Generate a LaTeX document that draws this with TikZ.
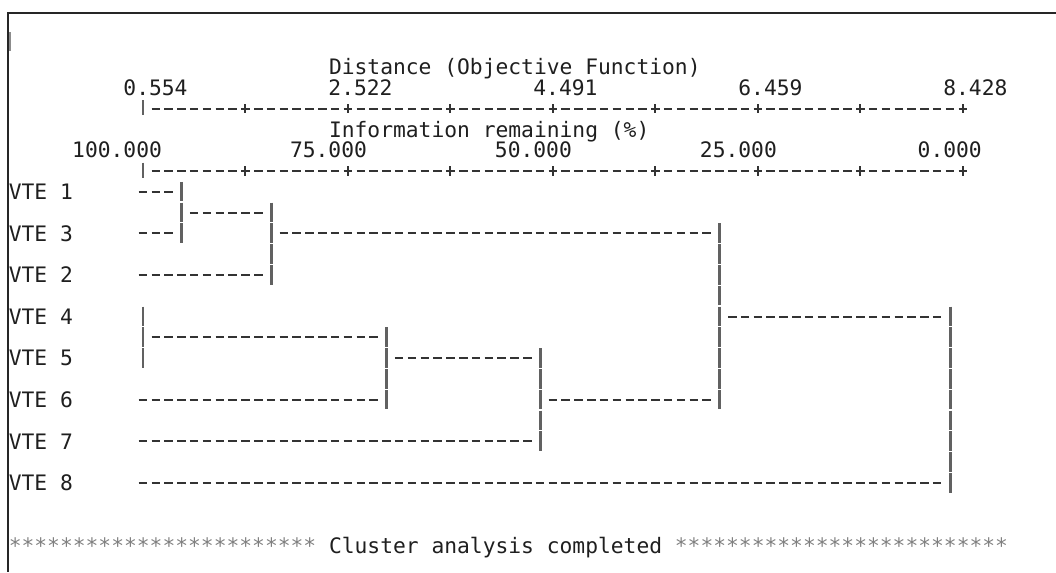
\documentclass[tikz,border=0pt]{standalone}
\usepackage{fontspec}
\newfontfamily\consfont{DejaVu Sans Mono}
\newcommand{\outfont}{\consfont\fontsize{15.14pt}{18pt}\selectfont}

\begin{document}
\begin{tikzpicture}[x=0.32025cm,y=-0.52cm,
  plaintxt/.style={anchor=base west,inner sep=0pt,font=\outfont,text=black!88},
  numtxt/.style={plaintxt,anchor=base east},
  startxt/.style={plaintxt,text=black!50},
  rowdash/.style={line width=1.4pt,draw=black!80,dash pattern=on 0.2125cm off 0.10775cm},
  leafline/.style={rowdash,shorten >=0.214cm},
  joinline/.style={rowdash,shorten <=0.214cm,shorten >=0.214cm},
  vbar/.style={line width=2.1pt,draw=black!62,dash pattern=on 0.49cm off 0.03cm,shorten <=-0.25cm,shorten >=-0.25cm},
  axisbar/.style={line width=2pt,draw=black!62},
  tickmark/.style={line width=1.4pt,draw=black!80},
  border/.style={line width=1.5pt,draw=black!85}]

  \fill[white] (-11.163,-3.221) rectangle (71.272,24.279);
  \useasboundingbox (-11.163,-3.221) rectangle (71.272,24.279);

  \draw[border] (71.272,-2.596) -- (-10.539,-2.596) -- (-10.539,24.279);
  \draw[black!45,line width=0.8pt] (-10.38,-1.68) -- (-10.38,-0.75);

  % distance scale
  \draw (14.5,0.37) node[plaintxt] (dtitle) {Distance (Objective Function)};
  \draw (3.5,1.37) node[numtxt] (d1) {0.554}
  ++(16,0) node[numtxt] (d2) {2.522}
  ++(16,0) node[numtxt] (d3) {4.491}
  ++(16,0) node[numtxt] (d4) {6.459}
  ++(16,0) node[numtxt] (d5) {8.428};
  \draw[axisbar] (0,1.6) -- (0,2.32);
  \draw[rowdash] (0.668,2) -- (64.332,2);
  \draw[tickmark] (8,1.78) -- (8,2.22) (16,1.78) -- (16,2.22) (24,1.78) -- (24,2.22)
    (32,1.78) -- (32,2.22) (40,1.78) -- (40,2.22) (48,1.78) -- (48,2.22)
    (56,1.78) -- (56,2.22) (64,1.78) -- (64,2.22);

  % information scale
  \draw (14.5,3.37) node[plaintxt] (ititle) {Information remaining (\%)};
  \draw (1.5,4.37) node[numtxt] (p1) {100.000}
  ++(16,0) node[numtxt] (p2) {75.000}
  ++(16,0) node[numtxt] (p3) {50.000}
  ++(16,0) node[numtxt] (p4) {25.000}
  ++(16,0) node[numtxt] (p5) {0.000};
  \draw[axisbar] (0,4.6) -- (0,5.32);
  \draw[rowdash] (0.668,5) -- (64.332,5);
  \draw[tickmark] (8,4.78) -- (8,5.22) (16,4.78) -- (16,5.22) (24,4.78) -- (24,5.22)
    (32,4.78) -- (32,5.22) (40,4.78) -- (40,5.22) (48,4.78) -- (48,5.22)
    (56,4.78) -- (56,5.22) (64,4.78) -- (64,5.22);

  % leaves
  \draw (-10.5,6.37) node[plaintxt] (v1) {VTE 1}
  ++(0,2) node[plaintxt] (v3) {VTE 3}
  ++(0,2) node[plaintxt] (v2) {VTE 2}
  ++(0,2) node[plaintxt] (v4) {VTE 4}
  ++(0,2) node[plaintxt] (v5) {VTE 5}
  ++(0,2) node[plaintxt] (v6) {VTE 6}
  ++(0,2) node[plaintxt] (v7) {VTE 7}
  ++(0,2) node[plaintxt] (v8) {VTE 8};

  \coordinate (e1) at (-0.332,6);
  \coordinate (e3) at (-0.332,8);
  \coordinate (e2) at (-0.332,10);
  \coordinate (e4) at (-0.332,12);
  \coordinate (e5) at (-0.332,14);
  \coordinate (e6) at (-0.332,16);
  \coordinate (e7) at (-0.332,18);
  \coordinate (e8) at (-0.332,20);

  % merges
  \coordinate (m13) at (3,7);
  \coordinate (m123) at (10,8);
  \coordinate (m45) at (0,13);
  \coordinate (m456) at (19,14);
  \coordinate (m4567) at (31,16);
  \coordinate (m17) at (45,12);
  \coordinate (m18) at (63,12);

  \draw[vbar] (m13 |- e1) -- (m13 |- e3);
  \draw[vbar] (m123 |- m13) -- (m123 |- e2);
  \draw[vbar] (m45 |- e4) -- (m45 |- e5);
  \draw[vbar] (m456 |- m45) -- (m456 |- e6);
  \draw[vbar] (m4567 |- m456) -- (m4567 |- e7);
  \draw[vbar] (m17 |- m123) -- (m17 |- m4567);
  \draw[vbar] (m18 |- m17) -- (m18 |- e8);

  \draw[leafline] (e1) -- (e1 -| m13);
  \draw[leafline] (e3) -- (e3 -| m13);
  \draw[leafline] (e2) -- (e2 -| m123);
  \draw[leafline] (e6) -- (e6 -| m456);
  \draw[leafline] (e7) -- (e7 -| m4567);
  \draw[leafline] (e8) -- (e8 -| m18);

  \draw[joinline] (m13) -- (m13 -| m123);
  \draw[joinline] (m123) -- (m123 -| m17);
  \draw[joinline] (m45) -- (m45 -| m456);
  \draw[joinline] (m456) -- (m456 -| m4567);
  \draw[joinline] (m4567) -- (m4567 -| m17);
  \draw[joinline] (m17) -- (m17 -| m18);

  \draw (-10.5,23.37) node[startxt] (s1) {************************}
  ++(25,0) node[plaintxt] (done) {Cluster analysis completed}
  ++(27,0) node[startxt] (s2) {**************************};

\end{tikzpicture}
\end{document}
